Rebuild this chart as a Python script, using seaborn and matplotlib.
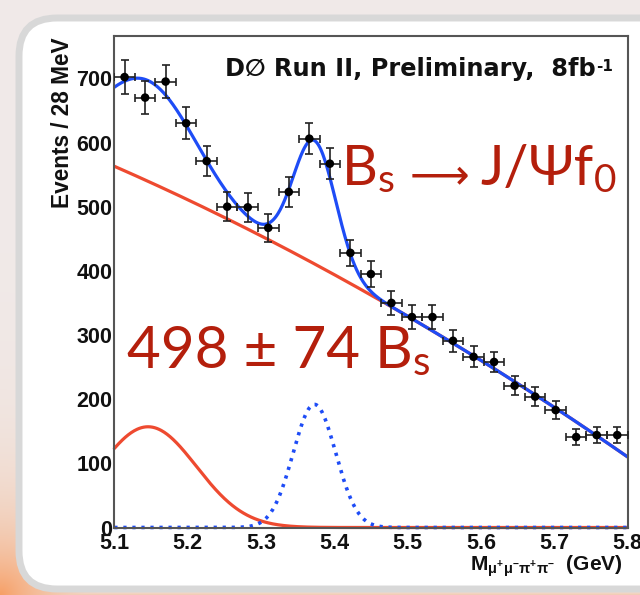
import numpy as np
import pandas as pd
import matplotlib
matplotlib.use("Agg")
import matplotlib.pyplot as plt
import seaborn as sns
from matplotlib.patches import FancyBboxPatch
from matplotlib.ticker import MultipleLocator, FormatStrFormatter

# ---- measured mass spectrum (28 MeV bins) ----
bin_centres = [5.114, 5.142, 5.170, 5.198, 5.226, 5.254, 5.282, 5.310, 5.338,
               5.366, 5.394, 5.422, 5.450, 5.478, 5.506, 5.534, 5.562, 5.590,
               5.618, 5.646, 5.674, 5.702, 5.730, 5.758, 5.786]
events = [702, 670, 695, 630, 571, 500, 499, 467, 523,
          606, 567, 428, 395, 350, 328, 328, 291, 266,
          258, 221, 204, 183, 141, 144, 144]
event_err = [26.5, 25.9, 26.4, 25.1, 23.9, 22.4, 22.3, 21.6, 22.9,
             24.6, 23.8, 20.7, 19.9, 18.7, 18.1, 18.1, 17.1, 16.3,
             16.1, 14.9, 14.3, 13.5, 11.9, 12.0, 12.0]
half_bin = 0.014
bin_width = 0.028

# ---- fit model components ----
bkg_coef = [563.0, -500.0, -210.0]          # quadratic in (m - 5.1)
refl_amp, refl_mean, refl_sigma = 157.0, 5.146, 0.066
sig_yield, sig_mean, sig_sigma = 498.0, 5.373, 0.029
sig_err = 74

x_ticks = [5.1, 5.2, 5.3, 5.4, 5.5, 5.6, 5.7, 5.8]
y_ticks = [0, 100, 200, 300, 400, 500, 600, 700]

sns.set_theme(style="white")
plt.rcParams["font.family"] = ["Liberation Sans", "DejaVu Sans"]
plt.rcParams["mathtext.default"] = "regular"

W, H = 640, 595
fig = plt.figure(figsize=(W / 100, H / 100), dpi=100)

# ---- slide backdrop with rounded white panel ----
back = fig.add_axes([0, 0, 1, 1])
back.set_axis_off()
yy, xx = np.mgrid[0:H, 0:W]
base = np.array([240, 234, 233]) / 255.0
glow = np.array([247, 158, 100]) / 255.0
w = np.exp(-np.hypot(xx, yy - H) / 70.0)
w = np.maximum(w, 0.45 * np.exp(-(H - yy) / 5.0))[..., None]
back.imshow(base * (1 - w) + glow * w, extent=(0, W, H, 0), aspect="auto")
back.add_patch(FancyBboxPatch((19, 18), 720, 571,
                              boxstyle="round,pad=0,rounding_size=38",
                              fc="white", ec="#d8d8d8", lw=5))
back.set_xlim(0, W)
back.set_ylim(H, 0)

# ---- main histogram frame ----
x0, x1, ytop, ybot = 114.3, 627.5, 36.0, 527.5
ax = fig.add_axes([x0 / W, (H - ybot) / H, (x1 - x0) / W, (ybot - ytop) / H])
ax.patch.set_alpha(0)

m = np.linspace(5.1, 5.8, 700)
t = m - 5.1
bkg = bkg_coef[0] + bkg_coef[1] * t + bkg_coef[2] * t ** 2
refl = refl_amp * np.exp(-0.5 * ((m - refl_mean) / refl_sigma) ** 2)
sig = (sig_yield * bin_width / (sig_sigma * np.sqrt(2 * np.pi))
       * np.exp(-0.5 * ((m - sig_mean) / sig_sigma) ** 2))
curves = pd.DataFrame({"m": m, "bkg": bkg, "refl": refl, "sig": sig,
                       "total": bkg + refl + sig})

red = "#ee4a30"
blue = "#1e4cf6"
sns.lineplot(data=curves, x="m", y="bkg", ax=ax, color=red, lw=2.3)
sns.lineplot(data=curves, x="m", y="refl", ax=ax, color=red, lw=2.3, clip_on=False)
sig_line = sns.lineplot(data=curves, x="m", y="sig", ax=ax, color=blue, lw=2.6,
                        clip_on=False).lines[-1]
sig_line.set_dashes((0.9, 1.6))
sns.lineplot(data=curves, x="m", y="total", ax=ax, color=blue, lw=2.3)

ax.errorbar(bin_centres, events, xerr=half_bin, yerr=event_err, fmt="none",
            ecolor="#222222", elinewidth=1.2, capsize=3.2, capthick=1.2, zorder=4)
sns.scatterplot(x=bin_centres, y=events, ax=ax, color="black", s=38,
                edgecolor="none", zorder=5)

ax.set_xlim(5.1, 5.8)
ax.set_ylim(0, 766)
ax.set_xticks(x_ticks)
ax.set_yticks(y_ticks)
ax.xaxis.set_major_formatter(FormatStrFormatter("%.1f"))
ax.xaxis.set_minor_locator(MultipleLocator(0.02))
ax.yaxis.set_minor_locator(MultipleLocator(20))
ax.tick_params(which="both", direction="in", top=False, right=False,
               color="#444444", width=1.3)
ax.tick_params(which="major", length=15)
ax.tick_params(which="minor", length=8)
ax.tick_params(axis="y", which="major", pad=1.5)
ax.tick_params(axis="x", which="major", pad=4)
for lab in ax.get_xticklabels() + ax.get_yticklabels():
    lab.set_fontweight("bold")
    lab.set_fontsize(15.5)
    lab.set_color("#111111")
for sp in ax.spines.values():
    sp.set_color("#555555")
    sp.set_linewidth(1.5)
ax.set_xlabel("")
ax.set_ylabel("")

ink = "#111111"
ax.text(-0.100, 0.997, "Events / 28 MeV", transform=ax.transAxes, rotation=90,
        ha="center", va="top", fontsize=16.3, fontweight="bold", color=ink)
ax.text(0.991, -0.088, r"M$_{μ^{+}μ^{-}π^{+}π^{-}}$  (GeV)", transform=ax.transAxes,
        ha="right", va="baseline", fontsize=15, fontweight="bold", color=ink)

# experiment tag with a superscript exponent
tag = ax.text(0.938, 0.9186, "D∅ Run II, Preliminary,  8fb", transform=ax.transAxes,
              ha="right", va="baseline", fontsize=17.3, fontweight="bold", color=ink,
              family=["DejaVu Sans"])
ax.annotate("-1", xy=(1.0, 1.0), xycoords=tag, xytext=(0.5, -1.5), textcoords="offset points",
            ha="left", va="top", fontsize=11, fontweight="bold", color=ink,
            family=["DejaVu Sans"])

# large annotations: pieces chained one after another (text, size, drop, gap in pt)
dark_red = "#b41f0c"
big = dict(color=dark_red, family=["Lato", "DejaVu Sans"])


def chained(parts, x, y):
    txt, size, drop, _ = parts[0]
    prev = ax.text(x, y - drop, txt, ha="left", va="baseline", fontsize=size, **big)
    for txt, size, drop, gap in parts[1:]:
        prev = ax.annotate(txt, xy=(1.0, y - drop), xycoords=(prev, "data"),
                           xytext=(gap, 0), textcoords="offset points",
                           ha="left", va="baseline", fontsize=size, **big)
    return prev


chained([("B", 40, 0, 0), ("s", 28, 11, 0), ("⟶", 30, 5, 11),
         ("J/Ψf", 40, 0, 8), ("0", 28, 11, 0)], 5.4106, 534)
chained([(f"{sig_yield:.0f} ± {sig_err} B", 42, 0, 0), ("s", 29, 11, 0)], 5.1173, 249)

fig.savefig("out.png", dpi=100)
